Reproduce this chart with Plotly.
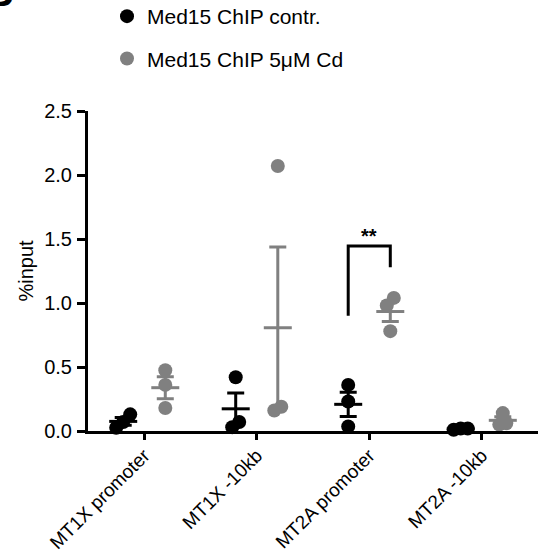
import numpy as np
import plotly.graph_objects as go

# ---------------- data ----------------
categories = ["MT1X promoter", "MT1X -10kb", "MT2A promoter", "MT2A -10kb"]
contr_values = [[0.025, 0.07, 0.13], [0.03, 0.07, 0.42], [0.035, 0.23, 0.36], [0.01, 0.02, 0.02]]
cd_values = [[0.18, 0.36, 0.475], [0.16, 0.19, 2.07], [0.78, 0.98, 1.04], [0.05, 0.06, 0.14]]
series_names = ["Med15 ChIP contr.", "Med15 ChIP 5\u03bcM Cd"]
y_ticks = [0.0, 0.5, 1.0, 1.5, 2.0, 2.5]
y_tick_labels = ["0.0", "0.5", "1.0", "1.5", "2.0", "2.5"]
sig_category = 2
sig_bracket_y = [0.90, 1.445, 1.28]   # left foot, top, right foot
sig_label = "**"

# ---------------- style ----------------
colors = ["#000000", "#808080"]
group_offset = 0.187
FONT = "Liberation Sans, Arial, Helvetica, sans-serif"
PX_X = 112.5   # px per x unit
PX_Y = 128.0   # px per y unit


def swarm(vals, thresh_px=9.0, step_px=7.0):
    vals = np.asarray(vals, dtype=float)
    order = np.argsort(vals)
    offs = np.zeros(len(vals))
    clusters, cur = [], [order[0]]
    for a, b in zip(order[:-1], order[1:]):
        if (vals[b] - vals[a]) * PX_Y < thresh_px:
            cur.append(b)
        else:
            clusters.append(cur)
            cur = [b]
    clusters.append(cur)
    for c in clusters:
        n = len(c)
        for i, idx in enumerate(c):
            offs[idx] = (i - (n - 1) / 2) * step_px / PX_X
    return offs


fig = go.Figure()
for s, (vals_all, name) in enumerate(zip([contr_values, cd_values], series_names)):
    sign = -1 if s == 0 else 1
    xs, ys, mx, my, se = [], [], [], [], []
    for ci, vals in enumerate(vals_all):
        base = ci + sign * group_offset
        offs = swarm(vals)
        xs += list(base + offs)
        ys += list(vals)
        v = np.asarray(vals)
        mx.append(base)
        my.append(v.mean())
        se.append(v.std(ddof=1) / np.sqrt(len(v)))
    # error bars (SEM)
    fig.add_trace(go.Scatter(
        x=mx, y=my, mode="markers", showlegend=False, hoverinfo="skip",
        marker=dict(size=1, color="rgba(0,0,0,0)"),
        error_y=dict(type="data", array=se, visible=True, color=colors[s],
                     thickness=3, width=8.5),
        cliponaxis=False))
    # mean lines
    fig.add_trace(go.Scatter(
        x=mx, y=my, mode="markers", showlegend=False, hoverinfo="skip",
        marker=dict(symbol="line-ew", size=20, color=colors[s],
                    line=dict(color=colors[s], width=3)),
        cliponaxis=False))
    # points
    fig.add_trace(go.Scatter(
        x=xs, y=ys, mode="markers", name=name, legendgroup=f"g{s}",
        marker=dict(size=14, color=colors[s]),
        cliponaxis=False))

# significance bracket
xl = sig_category - group_offset
xr = sig_category + group_offset
fig.add_shape(type="path",
              path=f"M {xl},{sig_bracket_y[0]} L {xl},{sig_bracket_y[1]} L {xr},{sig_bracket_y[1]} L {xr},{sig_bracket_y[2]}",
              line=dict(color="black", width=3), xref="x", yref="y")
fig.add_annotation(x=sig_category, y=sig_bracket_y[1], text=f"<b>{sig_label}</b>",
                   showarrow=False, yanchor="bottom", yshift=-3,
                   font=dict(size=20, color="black", family=FONT))

# cropped panel letter
fig.add_annotation(xref="paper", yref="paper", x=(16 - 88) / 450, y=(431 - 7) / 320,
                   xanchor="right", yanchor="bottom", yshift=-9, text="<b>B</b>",
                   showarrow=False, font=dict(size=40, color="black", family=FONT))

fig.update_layout(
    width=538, height=559,
    margin=dict(l=88, r=0, t=111, b=128, pad=0, autoexpand=False),
    paper_bgcolor="white", plot_bgcolor="white",
    font=dict(family=FONT, size=20, color="black"),
    showlegend=True,
    legend=dict(x=(107 - 88) / 450, y=(431 + 4) / 320, xanchor="left", yanchor="top",
                font=dict(size=21, family=FONT), bgcolor="rgba(0,0,0,0)",
                tracegroupgap=12, traceorder="grouped"),
    xaxis=dict(range=[-0.5, 3.5], tickmode="array", tickvals=list(range(len(categories))),
               ticktext=categories, tickangle=-45, showline=True, linewidth=3,
               linecolor="black", ticks="outside", ticklen=6, tickwidth=3,
               tickcolor="black", showgrid=False, zeroline=False, automargin=False,
               ticklabelstandoff=-3,
               tickfont=dict(size=19, family=FONT)),
    yaxis=dict(range=[0, 2.5], tickmode="array", tickvals=y_ticks, ticktext=y_tick_labels,
               showline=True, linewidth=3, linecolor="black", ticks="outside",
               ticklen=8, tickwidth=3, tickcolor="black", showgrid=False, zeroline=False,
               automargin=False, ticklabelstandoff=1,
               title=dict(text="%input", font=dict(size=20, family=FONT), standoff=6),
               tickfont=dict(size=20, family=FONT)),
)

fig.write_html("out.html", config={"displayModeBar": False},
               post_script="document.body.style.margin='0';document.body.style.overflow='hidden';")
